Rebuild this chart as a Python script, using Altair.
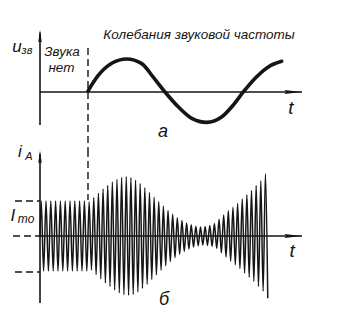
import altair as alt
import pandas as pd

# ---- values -------------------------------------------------------------
# time t is measured in periods of the sound tone; t = 0 is the moment the sound starts

# sound-frequency voltage u_зв, sampled along the drawn curve
tone_t = [0.0, 0.066, 0.153, 0.249, 0.346, 0.420, 0.496, 0.581, 0.668,
          0.764, 0.860, 0.935, 1.0, 1.075, 1.161, 1.247]
tone_u = [0.03, 0.50, 0.87, 1.0, 0.86, 0.45, 0.0, -0.45, -0.80,
          -0.92, -0.76, -0.40, 0.0, 0.41, 0.76, 0.93]

# anode current i_A: peak of each carrier cycle, in units of I_mo
silent_amp = [1.0, 1.0, 1.0, 1.0, 1.0, 1.0, 1.0, 1.0, 1.0, 1.0]
sound_amp = [0.97, 1.10, 1.22, 1.34, 1.44, 1.54, 1.62, 1.68, 1.70, 1.67,
             1.60, 1.50, 1.38, 1.24, 1.11, 0.98, 0.85, 0.73, 0.62, 0.52,
             0.44, 0.37, 0.32, 0.28, 0.26, 0.27, 0.30, 0.36, 0.48, 0.60,
             0.72, 0.82, 0.93, 1.06, 1.18, 1.30, 1.44, 1.58, 1.78]

T_AXIS = -0.309       # where the vertical axes stand
T_END_AXIS = 1.378    # end of the time axes
T_CARRIER_END = 1.165  # last carrier cycle

# ---- scales ---------------------------------------------------------------
T_DOM = [-0.5666, 1.7772]
U_DOM = [-1.758, 2.788]
I_DOM = [-2.314, 2.457]
INK = "#151515"
FONT = "Liberation Sans"
W = 364
H_TOP = 150
H_BOT = 167


def xq(field="t"):
    return alt.X(f"{field}:Q", scale=alt.Scale(domain=T_DOM, nice=False, zero=False), axis=None)


def yq(dom, field="v"):
    return alt.Y(f"{field}:Q", scale=alt.Scale(domain=dom, nice=False, zero=False), axis=None)


# carrier waveform as alternating crests and troughs
def carrier_points():
    rows = [{"t": T_AXIS, "v": 0.0}]
    p = (0.0 - T_AXIS) / len(silent_amp)
    for k, a in enumerate(silent_amp):
        s = T_AXIS + k * p
        rows.append({"t": s + p * 0.25, "v": a})
        rows.append({"t": s + p * 0.75, "v": -a})
    p = T_CARRIER_END / len(sound_amp)
    for k, a in enumerate(sound_amp):
        s = k * p
        rows.append({"t": s + p * 0.25, "v": a})
        rows.append({"t": s + p * 0.75, "v": -a})
    return pd.DataFrame(rows)


def panel(dom, height, line_layer, solid, dashed, arrows, labels):
    y = yq(dom)
    layers = [line_layer]
    layers.append(
        alt.Chart(pd.DataFrame(solid)).mark_rule(color=INK, strokeWidth=1.6).encode(
            x=xq(), x2="t2:Q", y=y, y2="v2:Q")
    )
    layers.append(
        alt.Chart(pd.DataFrame(dashed)).mark_rule(color=INK, strokeWidth=1.4, strokeDash=[7, 4]).encode(
            x=xq(), x2="t2:Q", y=y, y2="v2:Q")
    )
    for a in arrows:
        layers.append(
            alt.Chart(pd.DataFrame([a])).mark_point(
                shape=a["shape"], filled=True, color=INK, opacity=1, size=a["size"], strokeWidth=0
            ).encode(x=xq(), y=y)
        )
    for lab in labels:
        layers.append(
            alt.Chart(pd.DataFrame([lab])).mark_text(
                font=FONT, fontStyle="italic",
                fontSize=lab["fs"], color=INK, align="center", baseline="middle"
            ).encode(x=xq(), y=y, text="txt:N")
        )
    return alt.layer(*layers).properties(width=W, height=height)


UP = "M0,-1L0.28,1L-0.28,1Z"
RIGHT = "M1,0L-1,-0.22L-0.75,0L-1,0.22Z"

# ---- upper panel: sound-frequency oscillation --------------------------------
tone = pd.DataFrame({"t": tone_t, "v": tone_u})
tone_line = alt.Chart(tone).mark_line(
    interpolate="monotone", color=INK, strokeWidth=3.6, strokeCap="round"
).encode(x=xq(), y=yq(U_DOM))

top = panel(
    U_DOM, H_TOP, tone_line,
    solid=[
        {"t": T_AXIS, "t2": T_AXIS, "v": 1.80, "v2": -1.0},
        {"t": T_AXIS, "t2": T_END_AXIS, "v": 0.0, "v2": 0.0},
    ],
    dashed=[{"t": 0.0, "t2": 0.0, "v": 1.33, "v2": U_DOM[0]}],
    arrows=[
        {"t": T_AXIS, "v": 1.70, "shape": UP, "size": 150},
        {"t": 1.320, "v": 0.0, "shape": RIGHT, "size": 300},
    ],
    labels=[
        {"t": 0.715, "v": 1.74, "txt": "Колебания звуковой частоты", "fs": 13.5},
        {"t": -0.167, "v": 1.21, "txt": "Звука", "fs": 13.5},
        {"t": -0.171, "v": 0.73, "txt": "нет", "fs": 13.5},
        {"t": -0.457, "v": 1.36, "txt": "u", "fs": 17},
        {"t": -0.393, "v": 1.24, "txt": "зв", "fs": 11},
        {"t": 1.307, "v": -0.50, "txt": "t", "fs": 19},
        {"t": 0.483, "v": -1.21, "txt": "а", "fs": 18},
    ],
)

# ---- lower panel: modulated anode current --------------------------------
carrier = carrier_points()
carrier_line = alt.Chart(carrier).mark_line(
    interpolate="monotone", color=INK, strokeWidth=1.5
).encode(x=xq(), y=yq(I_DOM))

bottom = panel(
    I_DOM, H_BOT, carrier_line,
    solid=[
        {"t": T_AXIS, "t2": T_AXIS, "v": 2.35, "v2": -1.914},
        {"t": T_AXIS, "t2": T_END_AXIS, "v": 0.0, "v2": 0.0},
    ],
    dashed=[
        {"t": 0.0, "t2": 0.0, "v": I_DOM[1], "v2": 1.03},
        {"t": -0.483, "t2": T_AXIS, "v": 0.0, "v2": 0.0},
        {"t": -0.470, "t2": T_AXIS, "v": 1.0, "v2": 1.0},
        {"t": -0.470, "t2": T_AXIS, "v": -1.03, "v2": -1.03},
    ],
    arrows=[
        {"t": T_AXIS, "v": 2.27, "shape": UP, "size": 150},
        {"t": 1.320, "v": 0.0, "shape": RIGHT, "size": 300},
    ],
    labels=[
        {"t": -0.438, "v": 2.40, "txt": "i", "fs": 17},
        {"t": -0.380, "v": 2.25, "txt": "A", "fs": 11},
        {"t": -0.483, "v": 0.57, "txt": "I", "fs": 17},
        {"t": -0.399, "v": 0.48, "txt": "mo", "fs": 12},
        {"t": 1.314, "v": -0.43, "txt": "t", "fs": 19},
        {"t": 0.489, "v": -1.83, "txt": "б", "fs": 18},
    ],
)

chart = alt.vconcat(top, bottom, spacing=0).properties(
    padding=0, bounds="flush", background="white"
).configure_view(stroke=None, strokeWidth=0)

chart.save("out.html", embed_options={"renderer": "svg", "actions": False})
